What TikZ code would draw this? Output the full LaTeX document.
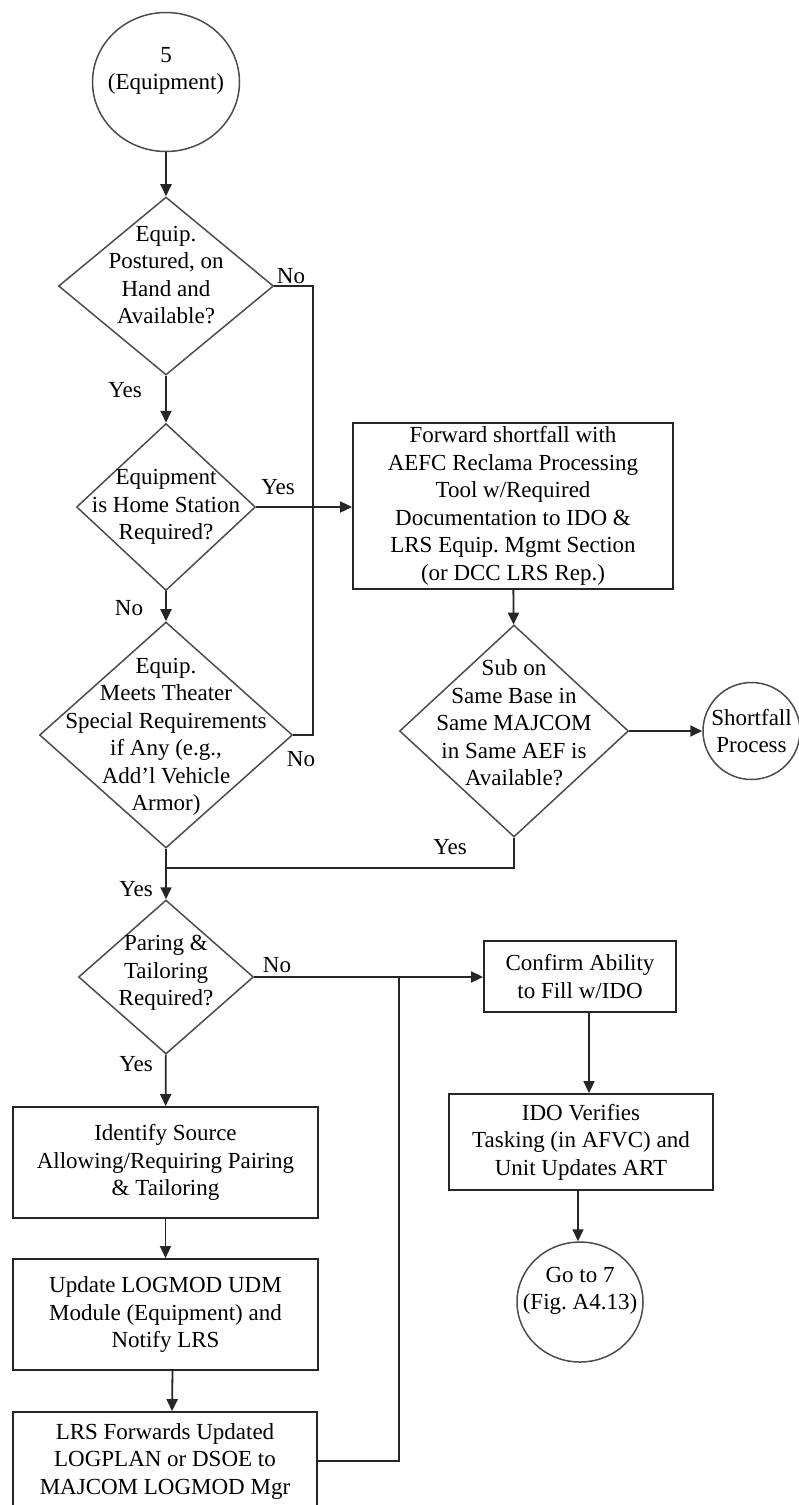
\documentclass[tikz,border=0pt]{standalone}
\usepackage{fontspec}
\setmainfont{Liberation Serif}
\usetikzlibrary{arrows.meta,shapes.geometric}
\frenchspacing
\newcommand{\chartfont}{\fontsize{23}{27.5}\selectfont}
\tikzset{
  box/.style={draw=black!85,line width=1.8pt,rectangle,align=center,inner sep=0pt,
    font=\chartfont},
  decision/.style={draw=black!70,line width=1.5pt,diamond,inner sep=0pt},
  terminal/.style={draw=black!70,line width=1.5pt,ellipse,inner sep=0pt},
  intext/.style={align=center,font=\chartfont,inner sep=0pt},
  arrow/.style={-{Triangle[length=12pt,width=11pt]},draw=black!85,line width=1.8pt},
  link/.style={draw=black!85,line width=1.8pt},
  answer/.style={font=\chartfont,inner sep=0pt}
}
\begin{document}
\begin{tikzpicture}[x=1pt,y=-1pt]
  \useasboundingbox (0,0) rectangle (799,1505);
  % left column
  \node[terminal,minimum width=147pt,minimum height=139pt,
    label={[intext]center:{5\\(Equipment)\\\mbox{}}}] (start) at (166,82) {};
  \node[decision,minimum width=215pt,minimum height=178pt,
    label={[intext,yshift=11pt]center:{Equip.\\Postured, on\\Hand and\\Available?}}] (d1) at (166,286) {};
  \node[decision,minimum width=179pt,minimum height=167pt,
    label={[intext]center:{Equipment\\is Home Station\\Required?}}] (d2) at (166,507) {};
  \node[decision,minimum width=253pt,minimum height=226pt,
    label={[intext,yshift=-2pt]center:{Equip.\\Meets Theater\\Special Requirements\\if Any (e.g.,\\Add'l Vehicle\\Armor)}}] (d3) at (166,735) {};
  \node[decision,minimum width=175pt,minimum height=154pt,
    label={[intext,yshift=4pt]center:{Paring \&\\Tailoring\\Required?}}] (d5) at (166,977) {};
  \node[box,minimum width=305pt,minimum height=111pt] (ident) at (165.5,1162.5)
    {Identify Source\\Allowing/Requiring Pairing\\\& Tailoring};
  \node[box,minimum width=305pt,minimum height=111pt] (upd) at (165.5,1314.5)
    {Update LOGMOD UDM\\Module (Equipment) and\\Notify LRS};
  \node[box,minimum width=304pt,minimum height=98pt] (lrs) at (165,1461)
    {LRS Forwards Updated\\LOGPLAN or DSOE to\\MAJCOM LOGMOD Mgr};
  % right column
  \node[box,minimum width=320pt,minimum height=166pt] (fwd) at (513,506)
    {Forward shortfall with\\AEFC Reclama Processing\\Tool w/Required\\Documentation to IDO \&\\LRS Equip. Mgmt Section\\(or DCC LRS Rep.)};
  \node[decision,minimum width=229pt,minimum height=212pt,
    label={[intext,yshift=8pt]center:{Sub on\\Same Base in\\Same MAJCOM\\in Same AEF is\\Available?}}] (d4) at (514,731) {};
  \node[terminal,minimum width=97pt,minimum height=97pt,
    label={[intext]center:{Shortfall\\Process}}] (short) at (751.5,731) {};
  \node[box,minimum width=192pt,minimum height=71pt] (conf) at (580,976.5)
    {Confirm Ability\\to Fill w/IDO};
  \node[box,minimum width=264pt,minimum height=96pt] (ido) at (581,1142)
    {IDO Verifies\\Tasking (in AFVC) and\\Unit Updates ART};
  \node[terminal,minimum width=126pt,minimum height=120pt,
    label={[intext]center:{Go to 7\\(Fig. A4.13)\\\mbox{}}}] (goto) at (580,1302) {};
  % branch labels
  \node[answer] (no1) at (291,276) {No};
  \node[answer] (yes1) at (125,390) {Yes};
  \node[answer] (yes2) at (278,487) {Yes};
  \node[answer] (no2) at (129,608) {No};
  \node[answer] (no3) at (301,759) {No};
  \node[answer] (yes3) at (136,889) {Yes};
  \node[answer] (yes4) at (450,847) {Yes};
  \node[answer] (no4) at (277,965) {No};
  \node[answer] (yes5) at (136,1064) {Yes};
  % joins
  \coordinate (join1) at (166,868);
  \coordinate (join2) at (399,976.5);
  % connectors
  \foreach \a/\b in {start/d1,d1/d2,d2/d3,d3/d5,d5/ident,ident/upd,fwd/d4,d4/short}{\draw[arrow] (\a) -- (\b);}
  \draw[arrow] ([xshift=7pt]upd.south) -- ([xshift=7pt]lrs.north);
  \draw[arrow] (d2.east) -- (d2.east -| fwd.west);
  \draw[arrow] (d5.east) -- (d5.east -| conf.west);
  \draw[arrow] ([xshift=9pt]conf.south) -- ([xshift=8pt]ido.north);
  \draw[arrow] ([xshift=-3pt]ido.south) -- ([xshift=-2pt]goto.north);
  \draw[link] (d1.east) -- ++(39,0) |- (d3.east);
  \draw[link] (d4.south) |- (join1);
  \draw[link] (lrs.east) -| (join2);
\end{tikzpicture}
\end{document}
